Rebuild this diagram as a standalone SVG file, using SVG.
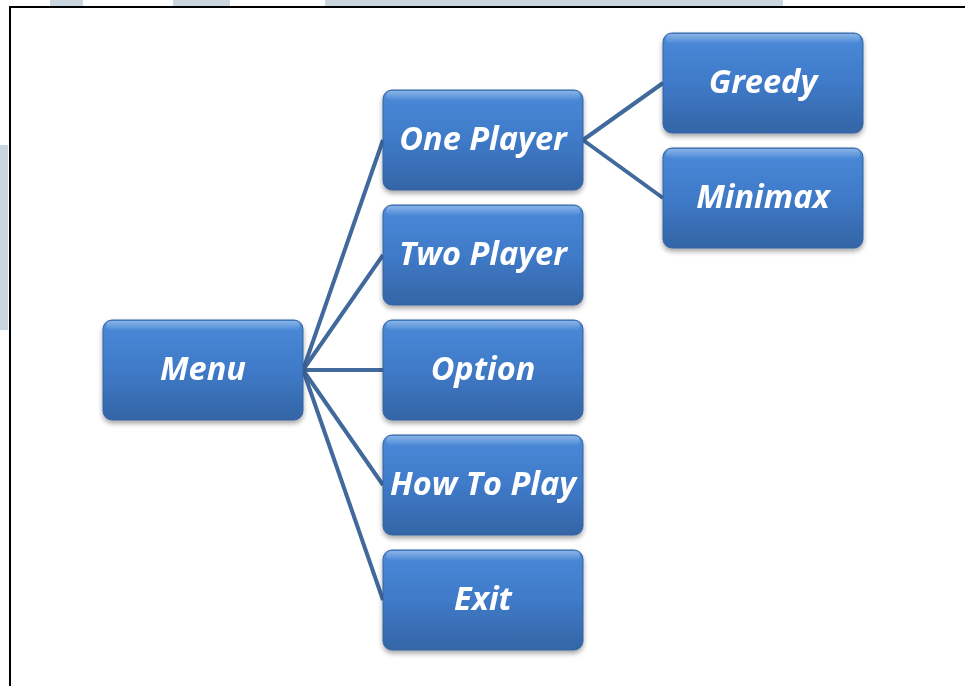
<svg xmlns="http://www.w3.org/2000/svg" width="965" height="686" viewBox="0 0 965 686">
  <style>
    .box { fill: url(#boxFill); stroke: #3563a0; stroke-width: 1; }
    .gloss { fill: url(#gloss); }
    .label { font-family: "Open Sans", "Noto Sans", "Liberation Sans", sans-serif; font-weight: bold; font-style: italic; font-size: 32.5px; fill: #ffffff; text-anchor: middle; }
    .link { stroke: #41699c; stroke-width: 4; fill: none; stroke-linecap: butt; }
    .frame { stroke: #000000; stroke-width: 2; fill: none; }
    .tint { fill: #c9d5df; }
  </style>
  <defs>
    <linearGradient id="boxFill" x1="0" y1="0" x2="0" y2="1">
      <stop offset="0" stop-color="#4a8ad9"/>
      <stop offset="0.5" stop-color="#3f7ac8"/>
      <stop offset="1" stop-color="#3465a6"/>
    </linearGradient>
    <linearGradient id="gloss" x1="0" y1="0" x2="0" y2="1">
      <stop offset="0" stop-color="#ffffff" stop-opacity="0.35"/>
      <stop offset="1" stop-color="#ffffff" stop-opacity="0"/>
    </linearGradient>
    <filter id="shadow" x="-10%" y="-10%" width="120%" height="130%">
      <feDropShadow dx="0" dy="3" stdDeviation="2.5" flood-color="#000000" flood-opacity="0.35"/>
    </filter>
  </defs>

  <!-- page background and frame -->
  <rect x="0" y="0" width="965" height="686" fill="#ffffff"/>
  <rect class="tint" x="50" y="0" width="33" height="6"/>
  <rect class="tint" x="173" y="0" width="57" height="6"/>
  <rect class="tint" x="325" y="0" width="458" height="6"/>
  <rect class="tint" x="0" y="145" width="8" height="185"/>
  <path class="frame" d="M10,686 V7 H965"/>

  <!-- connectors -->
  <g id="connectors">
    <line class="link" x1="303" y1="370" x2="383" y2="140"/>
    <line class="link" x1="303" y1="370" x2="383" y2="255"/>
    <line class="link" x1="303" y1="370" x2="383" y2="370"/>
    <line class="link" x1="303" y1="370" x2="383" y2="485"/>
    <line class="link" x1="303" y1="370" x2="383" y2="600"/>
    <line class="link" x1="583" y1="140" x2="663" y2="83"/>
    <line class="link" x1="583" y1="140" x2="663" y2="198"/>
  </g>

  <!-- nodes -->
  <g id="menu" filter="url(#shadow)">
    <rect class="box" x="103" y="320" width="200" height="100" rx="9"/>
    <rect class="gloss" x="106" y="321" width="194" height="10" rx="5"/>
    <text class="label" x="203" y="380">Menu</text>
  </g>
  <g id="one-player" filter="url(#shadow)">
    <rect class="box" x="383" y="90" width="200" height="100" rx="9"/>
    <rect class="gloss" x="386" y="91" width="194" height="10" rx="5"/>
    <text class="label" x="483" y="150">One Player</text>
  </g>
  <g id="two-player" filter="url(#shadow)">
    <rect class="box" x="383" y="205" width="200" height="100" rx="9"/>
    <rect class="gloss" x="386" y="206" width="194" height="10" rx="5"/>
    <text class="label" x="483" y="265">Two Player</text>
  </g>
  <g id="option" filter="url(#shadow)">
    <rect class="box" x="383" y="320" width="200" height="100" rx="9"/>
    <rect class="gloss" x="386" y="321" width="194" height="10" rx="5"/>
    <text class="label" x="483" y="380">Option</text>
  </g>
  <g id="how-to-play" filter="url(#shadow)">
    <rect class="box" x="383" y="435" width="200" height="100" rx="9"/>
    <rect class="gloss" x="386" y="436" width="194" height="10" rx="5"/>
    <text class="label" x="483" y="495">How To Play</text>
  </g>
  <g id="exit" filter="url(#shadow)">
    <rect class="box" x="383" y="550" width="200" height="100" rx="9"/>
    <rect class="gloss" x="386" y="551" width="194" height="10" rx="5"/>
    <text class="label" x="483" y="610">Exit</text>
  </g>
  <g id="greedy" filter="url(#shadow)">
    <rect class="box" x="663" y="33" width="200" height="100" rx="9"/>
    <rect class="gloss" x="666" y="34" width="194" height="10" rx="5"/>
    <text class="label" x="763" y="93">Greedy</text>
  </g>
  <g id="minimax" filter="url(#shadow)">
    <rect class="box" x="663" y="148" width="200" height="100" rx="9"/>
    <rect class="gloss" x="666" y="149" width="194" height="10" rx="5"/>
    <text class="label" x="763" y="208">Minimax</text>
  </g>
</svg>
